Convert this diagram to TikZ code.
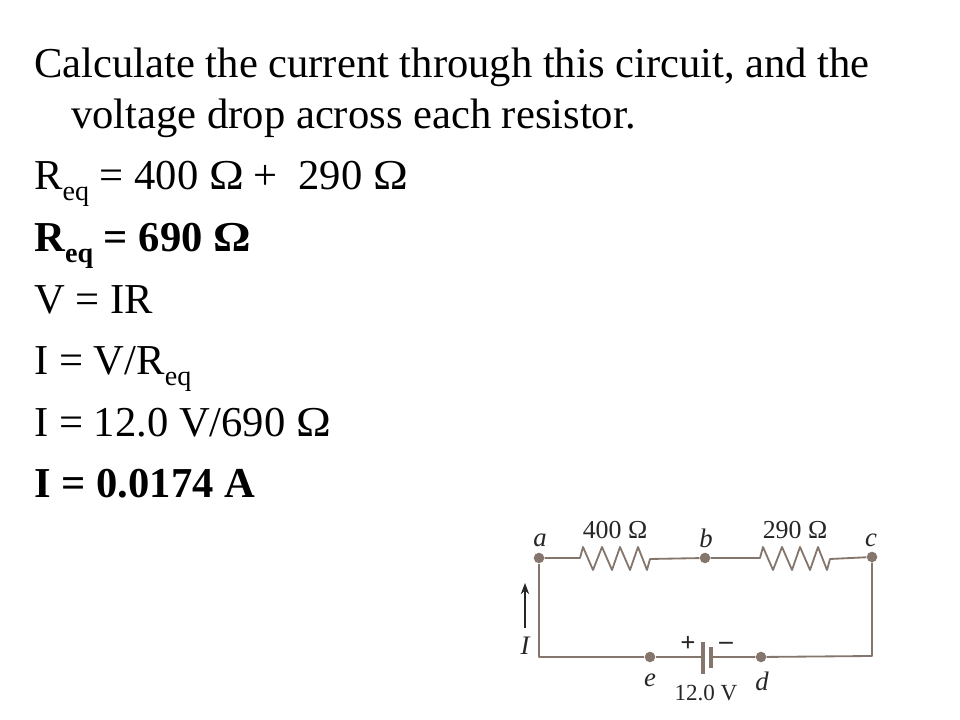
\documentclass[tikz,border=0pt]{standalone}
\usepackage{fontspec}
\setmainfont{Liberation Serif}
\usetikzlibrary{positioning,arrows.meta}
\definecolor{wirecol}{RGB}{132,118,108}
\tikzset{
 line/.style={anchor=base west,inner sep=0pt,font=\fontsize{30.3pt}{33pt}\selectfont},
 fig/.style={inner sep=0pt,text=black!85,font=\fontsize{18.4pt}{20pt}\selectfont},
 volts/.style={fig,font=\fontsize{16.4pt}{18pt}\selectfont},
 sign/.style={fig,font=\fontsize{19pt}{20pt}\bfseries\selectfont},
 figit/.style={fig,font=\fontsize{19pt}{21pt}\itshape\selectfont},
 wire/.style={draw=wirecol,line width=1.3pt,line join=round},
 plate/.style={draw=wirecol,line width=3.2pt},
 dot/.style={circle,fill=wirecol,minimum size=7.5pt,inner sep=0pt},
}
\newcommand\lowsub[1]{\raisebox{-0.24em}{\fontsize{20pt}{22pt}\selectfont #1}}
\newcommand\bigohm{\scalebox{1.1}[1]{Ω}\kern-1pt}
\begin{document}
\begin{tikzpicture}[x=0.025cm,y=0.025cm]
 \useasboundingbox (0,0) rectangle (960,720);
 % text lines
 \node[line] (l1) at (34,642) {Calculate the current through this circuit, and the};
 \node[line] (l2) at (71,591) {voltage drop across each resistor.};
 \node[line] (l3) at (34,530) {R\lowsub{eq} = 400 \bigohm{} +\ \ 290 \bigohm};
 \node[line] (l4) at (34,468) {\bfseries R\lowsub{eq} = 690 \bigohm};
 \node[line] (l5) at (34,406) {V = IR};
 \node[line] (l6) at (34,345) {I = V/R\lowsub{eq}};
 \node[line] (l7) at (34,283) {I = 12.0 V/690 \bigohm};
 \node[line] (l8) at (34,222) {\bfseries I = 0.0174 A};

 % circuit
 \node[dot] (a) at (539,162) {};
 \node[dot] (b) at (705,162) {};
 \node[dot] (c) at (872,163) {};
 \node[dot] (d) at (761,63) {};
 \node[dot] (e) at (650,63) {};
 \coordinate (bl) at (539,63);
 \coordinate (br) at (872,64);
 \coordinate (r1) at (580,162);
 \coordinate (r2) at (760,162);
 \coordinate (pos) at (703,63);
 \coordinate (neg) at (711,63);
 \coordinate (pos1) at (703,46);
 \coordinate (pos2) at (703,78);
 \coordinate (neg1) at (711,52);
 \coordinate (neg2) at (711,73);

 \draw[wire] (a) -- (r1) -- ++(3,11) -- ++(10,-23) -- ++(9,23) -- ++(10,-23) -- ++(8,23) -- ++(10,-23) -- ++(8,23) -- ++(9,-23) -- ++(3,11) -- (b);
 \draw[wire] (b) -- (r2) -- ++(3,11) -- ++(10,-23) -- ++(9,23) -- ++(10,-23) -- ++(8,23) -- ++(10,-23) -- ++(8,23) -- ++(9,-23) -- ++(3,11) -- (c);
 \draw[wire] (a) -- (bl) -- (e) -- (pos);
 \draw[wire] (neg) -- (d) -- (br) -- (c);
 \draw[plate] (pos1) -- (pos2);
 \draw[plate] (neg1) -- (neg2);

 \coordinate (i0) at (525,92);
 \coordinate (i1) at (525,137);
 \draw[-{Stealth[length=8pt,width=6pt]},line width=0.8pt,black!85] (i0) -- (i1);

 \node[figit] (la) at (540,180) {a};
 \node[figit] (lb) at (706,182) {b};
 \node[figit] (lc) at (871,180) {c};
 \node[figit] (ld) at (762,39) {d};
 \node[figit] (le) at (650,40) {e};
 \node[figit] (li) at (525,74) {I};
 \node[fig] (r400) at (615,190) {400 Ω};
 \node[fig] (r290) at (795,190) {290 Ω};
 \node[volts] (volt) at (706,27) {12.0 V};
 \node[sign] (plus) at (688,76) {+};
 \node[sign] (minus) at (726,74) {\textendash};
\end{tikzpicture}
\end{document}
